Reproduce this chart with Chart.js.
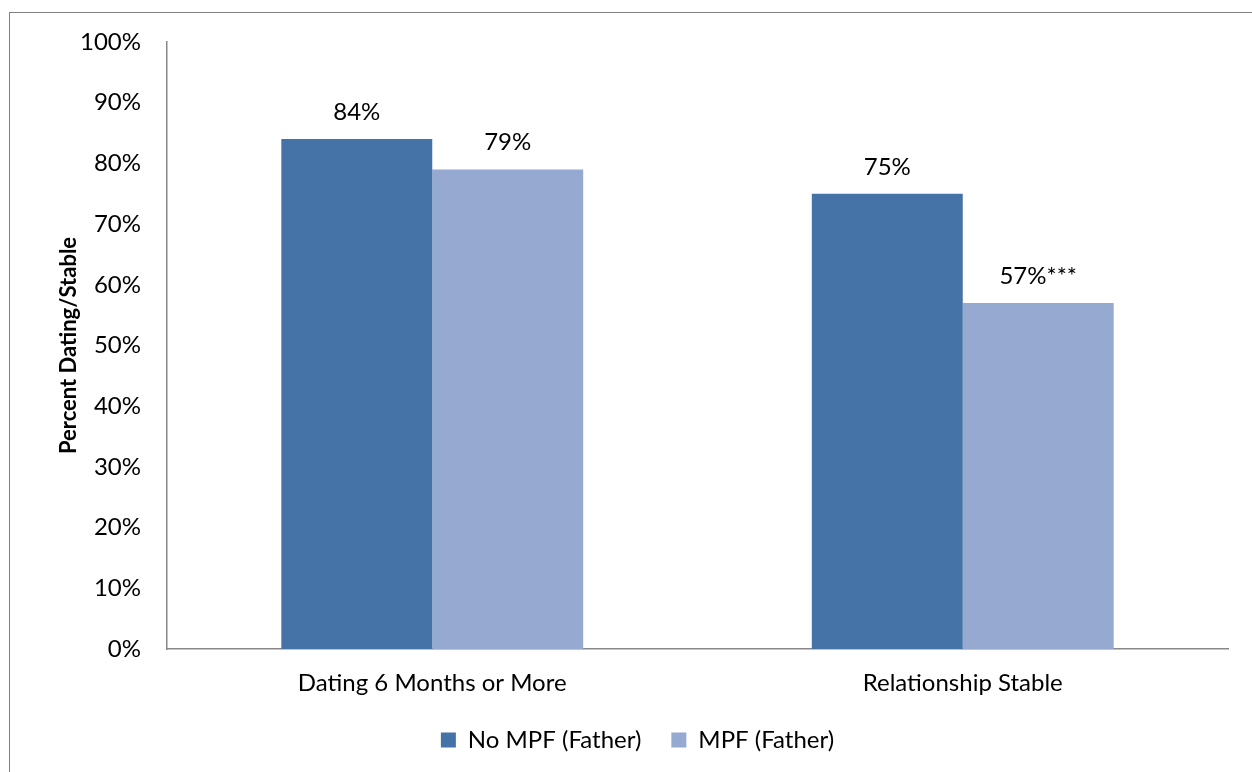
<!DOCTYPE html>
<html>
<head>
<meta charset="utf-8">
<script src="https://cdn.jsdelivr.net/npm/chart.js@4/dist/chart.umd.min.js"></script>
<style>
  html, body { margin: 0; padding: 0; background: #fff; overflow: hidden; }
  #wrap { position: absolute; left: 0; top: 0; width: 1252px; height: 772px; }
  #frame { position: absolute; left: 9px; top: 12px; width: 1400px; height: 900px; border: 1px solid #808080; box-sizing: border-box; }
  canvas { position: absolute; left: 0; top: 0; }
</style>
</head>
<body>
<div id="wrap">
  <div id="frame"></div>
  <canvas id="c" width="1252" height="772"></canvas>
</div>
<script>
const categories = ["Dating 6 Months or More", "Relationship Stable"];
const seriesNames = ["No MPF (Father)", "MPF (Father)"];
const noMpfValues = [84, 75];
const mpfValues = [79, 57];
const noMpfLabels = ["84%", "75%"];
const mpfLabels = ["79%", "57%***"];
const yTicks = [0, 10, 20, 30, 40, 50, 60, 70, 80, 90, 100];

const FONT = "Lato, 'Open Sans', sans-serif";

const valueLabels = {
  id: 'valueLabels',
  afterDatasetsDraw(chart) {
    const ctx = chart.ctx;
    ctx.save();
    ctx.font = "24px " + FONT;
    ctx.fillStyle = "#000";
    ctx.textAlign = "center";
    ctx.textBaseline = "alphabetic";
    chart.data.datasets.forEach((ds, di) => {
      const meta = chart.getDatasetMeta(di);
      meta.data.forEach((bar, i) => {
        ctx.fillText(ds.valueLabels[i], bar.x, bar.y - 19);
      });
    });
    ctx.restore();
  }
};

new Chart(document.getElementById('c'), {
  type: 'bar',
  data: {
    labels: categories,
    datasets: [
      { label: seriesNames[0], data: noMpfValues, valueLabels: noMpfLabels,
        backgroundColor: '#4573A7', borderWidth: 0 },
      { label: seriesNames[1], data: mpfValues, valueLabels: mpfLabels,
        backgroundColor: '#95A9D1', borderWidth: 0 }
    ]
  },
  options: {
    responsive: false,
    animation: false,
    devicePixelRatio: 1,
    layout: { padding: { left: 47, right: 24, top: 42, bottom: 10 } },
    datasets: { bar: { categoryPercentage: 0.569, barPercentage: 1.0 } },
    plugins: {
      legend: {
        position: 'bottom',
        labels: {
          font: { family: FONT, size: 24 },
          color: '#000',
          boxWidth: 15, boxHeight: 15,
          padding: 30
        }
      },
      tooltip: { enabled: false }
    },
    scales: {
      x: {
        afterFit(scale) { scale.height = 49; },
        grid: { display: false, drawTicks: false },
        border: { display: true, color: '#888', width: 1.5 },
        ticks: { font: { family: FONT, size: 24 }, color: '#000', padding: 20 }
      },
      y: {
        min: 0, max: 100,
        afterFit(scale) { scale.width = 120; },
        afterBuildTicks(scale) { scale.ticks = yTicks.map(v => ({ value: v })); },
        grid: { display: false, drawTicks: false },
        border: { display: true, color: '#888', width: 1.5 },
        ticks: {
          font: { family: FONT, size: 24 }, color: '#000', padding: 26,
          callback: v => v + '%'
        },
        title: {
          display: true, text: 'Percent Dating/Stable',
          font: { family: FONT, size: 22, weight: 'bold' }, color: '#000',
          padding: { top: 9, bottom: 0 }
        }
      }
    }
  },
  plugins: [valueLabels]
});
</script>
</body>
</html>
